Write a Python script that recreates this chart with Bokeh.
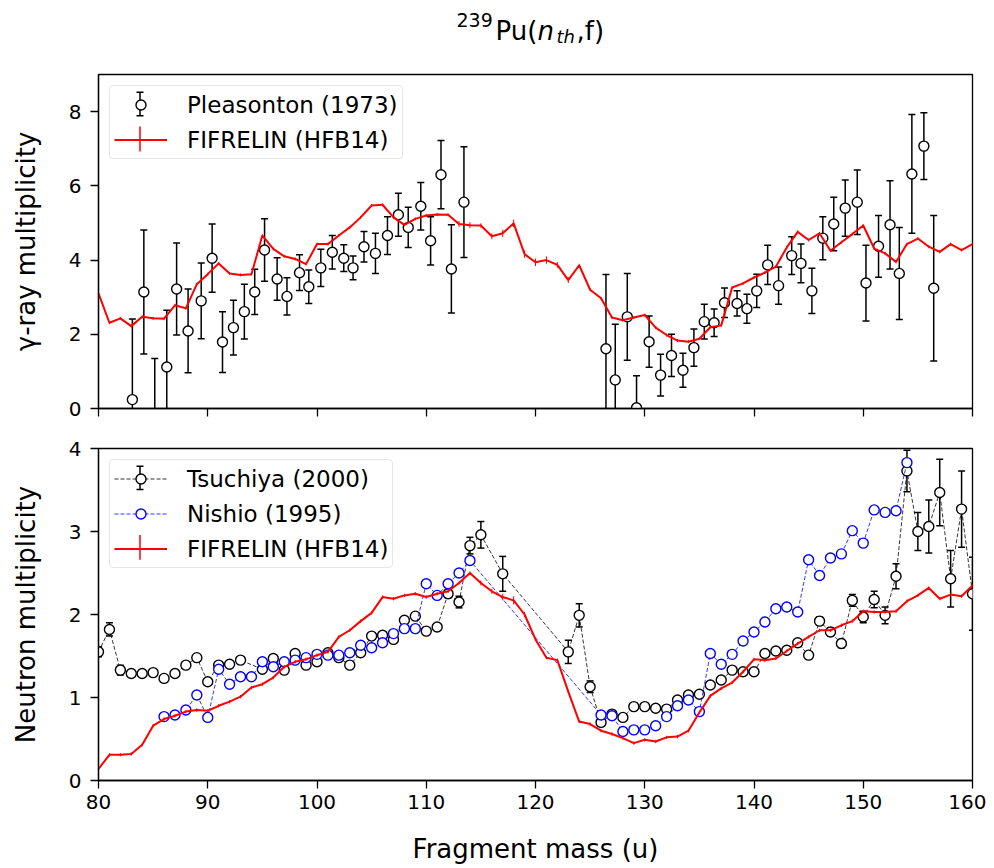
import numpy as np
from bokeh.plotting import figure
from bokeh.models import ColumnDataSource, Range1d, Legend, LegendItem, FixedTicker
from bokeh.layouts import column
from bokeh.embed import file_html
from bokeh.resources import INLINE
from bokeh.core.properties import value

# ---------------- data: gamma-ray multiplicity (top) ----------------
ple_mass = [83.1, 84.15, 85.15, 86.25, 87.15, 88.2, 89.4, 90.4, 91.35, 92.35, 93.35, 94.3,
            95.2, 96.35, 97.25, 98.4, 99.25, 100.35, 101.4, 102.45, 103.3, 104.3, 105.35,
            106.45, 107.45, 108.35, 109.5, 110.4, 111.35, 112.3, 113.45,
            126.45, 127.3, 128.4, 129.25, 130.4, 131.45, 132.45, 133.5, 134.5, 135.45,
            136.35, 137.3, 138.45, 139.35, 140.25, 141.25, 142.25, 143.45, 144.3, 145.3,
            146.3, 147.3, 148.35, 149.45, 150.25, 151.4, 152.45, 153.3, 154.45, 155.55, 156.45]
ple_mult = [0.24, 3.14, -0.3, 1.12, 3.22, 2.09, 2.9, 4.05, 1.79, 2.18, 2.61, 3.14,
            4.27, 3.49, 3.02, 3.66, 3.28, 3.79, 4.21, 4.05, 3.79, 4.36, 4.18,
            4.66, 5.22, 4.88, 5.45, 4.52, 6.3, 3.76, 5.56,
            1.61, 0.77, 2.47, 0.02, 1.8, 0.9, 1.43, 1.03, 1.64, 2.34,
            2.31, 2.85, 2.83, 2.69, 3.17, 3.87, 3.31, 4.12, 3.91, 3.17,
            4.59, 4.97, 5.4, 5.56, 3.38, 4.37, 4.95, 3.64, 6.32, 7.07, 3.24]
ple_err = [2.17, 1.67, 1.65, 1.53, 1.24, 1.13, 1.02, 0.92, 0.82, 0.74, 0.74, 0.61,
           0.84, 0.57, 0.5, 0.48, 0.45, 0.5, 0.45, 0.36, 0.32, 0.41, 0.54,
           0.51, 0.58, 0.54, 0.64, 0.65, 0.92, 1.19, 1.49,
           2.0, 1.5, 1.17, 0.86, 0.69, 0.56, 0.57, 0.46, 0.5, 0.47,
           0.37, 0.4, 0.34, 0.39, 0.45, 0.53, 0.5, 0.51, 0.52, 0.61,
           0.58, 0.72, 0.76, 0.87, 1.02, 0.83, 1.19, 1.24, 1.6, 0.9, 1.96]

fif_mass = list(range(80, 161))
fif_gamma = [3.1, 2.31, 2.43, 2.22, 2.47, 2.43, 2.42, 2.78, 2.7, 3.35,
             3.62, 3.91, 3.64, 3.6, 3.62, 4.66, 4.3, 4.1, 4.03, 3.89,
             4.43, 4.43, 4.66, 4.88, 5.15, 5.47, 5.49, 5.15, 4.95, 5.11,
             5.2, 5.23, 5.22, 4.97, 4.94, 4.93, 4.64, 4.72, 4.99, 4.16,
             3.94, 4.0, 3.87, 3.46, 3.86, 3.2, 2.97, 2.45, 2.38, 2.45,
             2.52, 2.18, 1.98, 1.83, 1.8, 1.88, 2.19, 2.24, 3.26, 3.37,
             3.53, 3.66, 3.82, 4.34, 4.76, 4.54, 4.72, 4.25, 4.48, 4.7,
             4.93, 4.31, 4.18, 3.95, 4.43, 4.58, 4.36, 4.22, 4.43, 4.27, 4.43]
fif_gamma_err = [0.04] * 33 + [0.08, 0.08, 0.06, 0.08, 0.1, 0.1, 0.1, 0.1, 0.1, 0.08, 0.08] + [0.04] * 37

# ---------------- data: neutron multiplicity (bottom) ----------------
tsu_mass = [80, 81, 82, 83, 84, 85, 86, 87, 88, 89, 90, 91, 92, 93, 95, 96, 97, 98, 99,
            100, 101, 102, 103, 104, 105, 106, 107, 108, 109, 110, 111, 112, 113, 114,
            115, 117, 123, 124, 125, 126, 127, 128, 129, 130, 131, 132, 133, 134, 135,
            136, 137, 138, 139, 140, 141, 142, 143, 144, 145, 146, 147, 148, 149, 150,
            151, 152, 153, 154, 155, 156, 157, 158, 159, 160]
tsu_nu = [1.55, 1.82, 1.33, 1.29, 1.29, 1.3, 1.23, 1.29, 1.39, 1.48, 1.19, 1.39, 1.4, 1.45,
          1.34, 1.47, 1.33, 1.53, 1.39, 1.43, 1.54, 1.48, 1.39, 1.54, 1.74, 1.75, 1.7,
          1.93, 1.98, 1.8, 1.85, 2.25, 2.15, 2.83, 2.96, 2.49, 1.55, 1.99, 1.13, 0.7, 0.8,
          0.76, 0.89, 0.89, 0.87, 0.86, 0.97, 1.03, 1.04, 1.15, 1.21, 1.33, 1.31, 1.31,
          1.53, 1.56, 1.57, 1.66, 1.51, 1.92, 1.79, 1.65, 2.17, 1.97, 2.18, 1.99, 2.46,
          3.73, 3.0, 3.06, 3.47, 2.43, 3.27, 2.25]
tsu_err = [0.06, 0.08, 0.06, 0.04, 0.04, 0.03, 0.03, 0.03, 0.03, 0.03, 0.03, 0.03, 0.03, 0.03,
           0.03, 0.03, 0.03, 0.03, 0.03, 0.03, 0.03, 0.03, 0.03, 0.03, 0.03, 0.03, 0.03,
           0.03, 0.03, 0.03, 0.04, 0.05, 0.07, 0.1, 0.16, 0.21, 0.14, 0.14, 0.07, 0.04, 0.04,
           0.03, 0.03, 0.03, 0.03, 0.03, 0.03, 0.03, 0.03, 0.03, 0.03, 0.03, 0.03, 0.03,
           0.03, 0.03, 0.03, 0.03, 0.04, 0.05, 0.05, 0.05, 0.07, 0.07, 0.1, 0.1, 0.15,
           0.25, 0.23, 0.32, 0.4, 0.34, 0.46, 0.44]

nis_mass = [86, 87, 88, 89, 90, 91, 92, 93, 94, 95, 96, 97, 98, 99, 100, 101, 102, 103, 104,
            105, 106, 107, 108, 109, 110, 111, 112, 113, 114, 126, 127, 128, 129, 130, 131,
            132, 133, 134, 135, 136, 137, 138, 139, 140, 141, 142, 143, 144, 145, 146, 147,
            148, 149, 150, 151, 152, 153, 154]
nis_nu = [0.77, 0.79, 0.85, 1.03, 0.76, 1.34, 1.16, 1.25, 1.25, 1.43, 1.37, 1.43, 1.45, 1.48,
          1.52, 1.51, 1.51, 1.54, 1.63, 1.6, 1.66, 1.77, 1.83, 1.83, 2.37, 2.23, 2.37, 2.5,
          2.65, 0.79, 0.78, 0.59, 0.61, 0.61, 0.66, 0.77, 0.9, 0.97, 0.83, 1.53, 1.4, 1.52,
          1.68, 1.79, 1.91, 2.07, 2.09, 2.03, 2.66, 2.47, 2.68, 2.73, 3.01, 2.86, 3.26, 3.23,
          3.25, 3.83]

fif_nu = [0.14, 0.31, 0.31, 0.32, 0.43, 0.66, 0.74, 0.78, 0.83, 0.85,
          0.84, 0.9, 0.95, 1.01, 1.12, 1.16, 1.24, 1.37, 1.43, 1.46,
          1.51, 1.55, 1.73, 1.81, 1.92, 2.02, 2.21, 2.19, 2.23, 2.25,
          2.21, 2.25, 2.28, 2.38, 2.5, 2.38, 2.28, 2.21, 2.17, 2.0,
          1.7, 1.48, 1.45, 1.07, 0.71, 0.68, 0.6, 0.56, 0.51, 0.45,
          0.49, 0.47, 0.52, 0.53, 0.6, 0.82, 1.02, 1.11, 1.18, 1.31,
          1.46, 1.45, 1.47, 1.56, 1.65, 1.73, 1.81, 1.81, 1.87, 1.92,
          2.04, 2.03, 2.03, 2.04, 2.16, 2.23, 2.32, 2.19, 2.24, 2.22, 2.35]
fif_nu_err = [0.02] * 35 + [0.03, 0.03, 0.04, 0.05, 0.03] + [0.02] * 41

x_ticks = [80, 90, 100, 110, 120, 130, 140, 150, 160]
g_ticks = [0, 2, 4, 6, 8]
n_ticks = [0, 1, 2, 3, 4]

# title pieces: (text, size, style, vertical role)
title_parts = [("239", "19px", "normal", "sup"), ("Pu(", "26px", "normal", "base"),
               ("n", "26px", "italic", "base"), ("th", "18px", "italic", "sub"),
               (",f)", "26px", "normal", "base")]

FONT = "DejaVu Sans"
RED = "#ff0000"
BLUE = "#0000ff"
W = 986
FRAME_L, FRAME_W, FRAME_H = 98, 874, 334
XMIN, XMAX = 80, 160

# legend geometry (pixels)
LG_MARGIN, LG_PAD, LG_GW, LG_GH, LG_LH, LG_SP, LG_STAND = 11, 4, 53, 25, 29, 6, 20


def errsrc(x, y, e):
    y = np.asarray(y, float)
    e = np.asarray(e, float)
    return ColumnDataSource(dict(x=list(x), y=list(y), lo=list(y - e), hi=list(y + e)))


def style(p, yticks, ylabel):
    p.grid.visible = False
    p.outline_line_color = "black"
    p.outline_line_width = 1.3
    p.xaxis.ticker = FixedTicker(ticks=x_ticks)
    p.yaxis.ticker = FixedTicker(ticks=yticks)
    for ax in p.xaxis + p.yaxis:
        ax.axis_line_color = "black"
        ax.axis_line_width = 1.3
        ax.major_tick_line_color = "black"
        ax.major_tick_line_width = 1.3
        ax.major_tick_out = 8
        ax.major_tick_in = 0
        ax.minor_tick_line_color = None
        ax.major_label_text_font = FONT
        ax.major_label_text_font_size = "20px"
        ax.major_label_text_color = "black"
        ax.major_label_standoff = 6
        ax.axis_label_text_font = FONT
        ax.axis_label_text_font_size = "26px"
        ax.axis_label_text_font_style = "normal"
        ax.axis_label_text_color = "black"
    p.yaxis.axis_label = ylabel
    p.yaxis.major_label_standoff = 9
    p.yaxis.axis_label_standoff = 25


def errorbars(p, src, color, lw, cap):
    p.segment(x0="x", y0="lo", x1="x", y1="hi", source=src, line_color=color, line_width=lw)
    if cap:
        p.scatter(x="x", y="hi", source=src, marker="dash", size=cap, line_color=color, line_width=lw)
        p.scatter(x="x", y="lo", source=src, marker="dash", size=cap, line_color=color, line_width=lw)


def legend(p, items):
    lg = Legend(items=items, location="top_left")
    lg.label_text_font = FONT
    lg.label_text_font_size = "23px"
    lg.label_text_color = "black"
    lg.glyph_width = LG_GW
    lg.glyph_height = LG_GH
    lg.label_height = LG_LH
    lg.label_standoff = LG_STAND
    lg.spacing = LG_SP
    lg.padding = LG_PAD
    lg.margin = LG_MARGIN
    lg.border_line_color = "#cccccc"
    lg.border_line_width = 1
    lg.background_fill_color = None   # nothing lies beneath the legend boxes
    if "border_radius" in Legend.properties():
        lg.border_radius = 4
    p.add_layout(lg)


def legend_errbar_icon(p, ymax, row, color, half_px, cap):
    """Vertical error-bar symbol placed under a legend row's icon (legend is transparent)."""
    rowh = max(LG_GH, LG_LH)
    cx = XMIN + (LG_MARGIN + LG_PAD + LG_GW / 2) * (XMAX - XMIN) / FRAME_W
    cy_px = LG_MARGIN + LG_PAD + rowh / 2 + row * (rowh + LG_SP)
    ppu = FRAME_H / ymax
    cy = ymax - cy_px / ppu
    h = half_px / ppu
    src = ColumnDataSource(dict(x=[cx], y=[cy], lo=[cy - h], hi=[cy + h]))
    errorbars(p, src, color, 1.5, cap)


# ---------------- title strip ----------------
p0 = figure(width=W, height=66, x_range=Range1d(XMIN, XMAX), y_range=Range1d(66, 0),
            output_backend="svg", toolbar_location=None, x_axis_type=None, y_axis_type=None,
            title=None, min_border=0, min_border_left=FRAME_L,
            min_border_right=W - FRAME_L - FRAME_W)
p0.outline_line_color = None
p0.grid.visible = False
t_px = [456, 495, 537, 556, 576]
t_base = {"sup": 19, "base": 30, "sub": 35.5}
for (txt, size, st, role), tx in zip(title_parts, t_px):
    p0.text(x=[XMIN + (tx - FRAME_L) * (XMAX - XMIN) / FRAME_W], y=[t_base[role]], text=[txt],
            text_font=value(FONT), text_font_size=value(size), text_font_style=value(st),
            text_color="black", text_align="left", text_baseline="alphabetic")

# ---------------- top panel ----------------
p1 = figure(width=W, height=362, x_range=Range1d(XMIN, XMAX), y_range=Range1d(0, 9),
            output_backend="svg", toolbar_location=None, title=None,
            min_border_left=FRAME_L, min_border_right=W - FRAME_L - FRAME_W,
            min_border_top=8, min_border_bottom=20)
style(p1, g_ticks, "γ-ray multiplicity")
p1.xaxis.major_label_overrides = {t: "" for t in x_ticks}
p1.xaxis.major_label_text_font_size = "1px"
p1.xaxis.major_label_standoff = 0

ple_src = errsrc(ple_mass, ple_mult, ple_err)
errorbars(p1, ple_src, "black", 1.5, 7)
ple_pts = p1.scatter(x="x", y="y", source=ple_src, marker="circle", size=10,
                     fill_color="white", line_color="black", line_width=1.4)

fg_src = errsrc(fif_mass, fif_gamma, fif_gamma_err)
errorbars(p1, fg_src, RED, 1.0, 0)
fg_line = p1.line(x="x", y="y", source=fg_src, line_color=RED, line_width=2)

legend_errbar_icon(p1, 9, 0, "black", 11.7, 7)
legend_errbar_icon(p1, 9, 1, RED, 12.5, 0)
legend(p1, [LegendItem(label="Pleasonton (1973)", renderers=[ple_pts]),
            LegendItem(label="FIFRELIN (HFB14)", renderers=[fg_line])])

# ---------------- bottom panel ----------------
p2 = figure(width=W, height=438, x_range=p1.x_range, y_range=Range1d(0, 4),
            output_backend="svg", toolbar_location=None, title=None,
            min_border_left=FRAME_L, min_border_right=W - FRAME_L - FRAME_W,
            min_border_top=20, min_border_bottom=84)
style(p2, n_ticks, "Neutron multiplicity")
p2.xaxis.axis_label = "Fragment mass (u)"
p2.xaxis.axis_label_standoff = 22

tsu_src = errsrc(tsu_mass, tsu_nu, tsu_err)
tsu_line = p2.line(x="x", y="y", source=tsu_src, line_color="black", line_width=0.8, line_dash="4 2")
errorbars(p2, tsu_src, "black", 1.5, 7)
tsu_pts = p2.scatter(x="x", y="y", source=tsu_src, marker="circle", size=10,
                     fill_color="white", line_color="black", line_width=1.4)

nis_src = ColumnDataSource(dict(x=nis_mass, y=nis_nu))
nis_line = p2.line(x="x", y="y", source=nis_src, line_color=BLUE, line_width=0.8, line_dash="4 2")
nis_pts = p2.scatter(x="x", y="y", source=nis_src, marker="circle", size=10,
                     fill_color="white", line_color=BLUE, line_width=1.4)

fn_src = errsrc(fif_mass, fif_nu, fif_nu_err)
errorbars(p2, fn_src, RED, 1.0, 0)
fn_line = p2.line(x="x", y="y", source=fn_src, line_color=RED, line_width=2)

legend_errbar_icon(p2, 4, 0, "black", 11.7, 7)
legend_errbar_icon(p2, 4, 2, RED, 12.5, 0)
legend(p2, [LegendItem(label="Tsuchiya (2000)", renderers=[tsu_line, tsu_pts]),
            LegendItem(label="Nishio (1995)", renderers=[nis_line, nis_pts]),
            LegendItem(label="FIFRELIN (HFB14)", renderers=[fn_line])])

layout = column(p0, p1, p2, spacing=0)
open("out.html", "w").write(file_html(layout, INLINE))
